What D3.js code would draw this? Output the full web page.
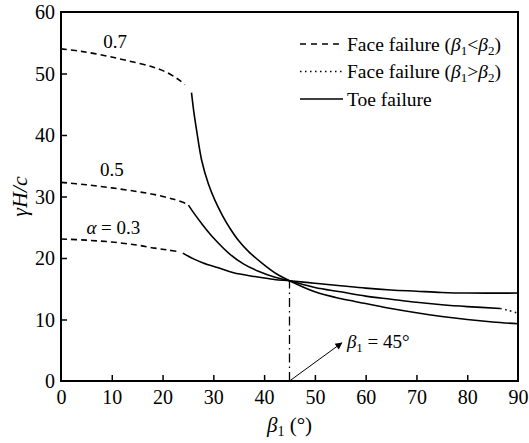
<!DOCTYPE html>
<html>
<head>
<meta charset="utf-8">
<script src="https://cdn.jsdelivr.net/npm/d3@7"></script>
<style>
  body { margin: 0; background: #fff; }
</style>
</head>
<body>
<div id="chart"></div>
<script>
// datos (beta1 en grados, gammaH/c)
const xTicks = [0, 10, 20, 30, 40, 50, 60, 70, 80, 90];
const yTicks = [0, 10, 20, 30, 40, 50, 60];

// alpha = 0.7
const face07 = [[0, 54.0], [4, 53.6], [8.7, 52.9], [13, 52.1], [17.9, 51.1], [21, 50.1], [23, 49.1], [24.4, 48.2]];
const toe07 = [[25.7, 46.9], [26.2, 43.5], [26.7, 40.8], [27.7, 35.9], [29, 32.1], [30.3, 29.4], [31.8, 26.9], [33.3, 24.8],
  [35, 22.8], [37, 21.0], [40, 18.9], [42.5, 17.4], [45, 16.3], [50, 14.5], [55, 13.4], [60, 12.6],
  [65, 11.8], [70, 11.1], [75, 10.5], [80, 10.0], [85, 9.6], [90, 9.3]];

// alpha = 0.5
const face05 = [[0, 32.3], [5, 31.9], [10, 31.4], [15, 30.8], [18.5, 30.3], [22, 29.6], [24.5, 28.9]];
const toe05 = [[25.1, 28.6], [26, 27.5], [27.7, 25.6], [30, 23.3], [33.3, 20.6], [36, 19.0], [39, 17.8],
  [42, 16.9], [45, 16.3], [50, 15.2], [55, 14.5], [60, 13.8], [65, 13.3], [70, 12.8], [75, 12.4],
  [80, 12.1], [86.5, 11.8]];
const faceHigh05 = [[86.5, 11.8], [88, 11.5], [90, 11.0]];

// alpha = 0.3
const face03 = [[0, 23.1], [5, 22.9], [10, 22.6], [15, 22.1], [18.5, 21.6], [21, 21.3], [23.4, 21.0]];
const toe03 = [[24, 20.8], [26, 19.9], [28, 19.2], [31, 18.4], [34, 17.6], [38, 17.0], [42, 16.5],
  [45, 16.3], [50, 15.9], [55, 15.5], [60, 15.1], [65, 14.8], [70, 14.6], [75, 14.4], [80, 14.3], [90, 14.3]];

const curveLabels = [
  { text: "0.7", x: 8.3, y: 54.2 },
  { text: "0.5", x: 7.7, y: 33.3 },
  { text: "\u03b1 = 0.3", x: 5.0, y: 23.9 }
];

const FONT = "Liberation Serif";
const width = 529, height = 443;
const margin = { top: 12, right: 11, bottom: 62, left: 61 };

const svg = d3.select("#chart").append("svg")
  .attr("width", width)
  .attr("height", height)
  .attr("font-family", FONT);

const x = d3.scaleLinear().domain([0, 90]).range([margin.left, width - margin.right]);
const y = d3.scaleLinear().domain([0, 60]).range([height - margin.bottom, margin.top]);

const line = d3.line().x(d => x(d[0])).y(d => y(d[1])).curve(d3.curveCatmullRom.alpha(0.5));

// EJES (ticks hacia dentro)
const xAxis = svg.append("g")
  .attr("transform", `translate(0,${y(0)})`)
  .call(d3.axisBottom(x).tickValues(xTicks).tickSize(-6).tickPadding(9).tickFormat(d3.format("d")));
const yAxis = svg.append("g")
  .attr("transform", `translate(${x(0)},0)`)
  .call(d3.axisLeft(y).tickValues(yTicks).tickSize(-6).tickPadding(6).tickFormat(d3.format("d")));

[xAxis, yAxis].forEach(a => {
  a.attr("font-family", FONT);
  a.select(".domain").remove();
  a.selectAll(".tick line").attr("stroke", "#000").attr("stroke-width", 1.5);
  a.selectAll(".tick text").attr("font-size", 20).attr("fill", "#000").attr("font-family", FONT);
});
// quitar tick del borde
xAxis.selectAll(".tick").filter(d => d === 0 || d === 90).select("line").remove();
yAxis.selectAll(".tick").filter(d => d === 0 || d === 60).select("line").remove();
yAxis.selectAll(".tick text").attr("dy", "0.34em");

// MARCO
svg.append("rect")
  .attr("x", x(0)).attr("y", y(60))
  .attr("width", x(90) - x(0)).attr("height", y(0) - y(60))
  .attr("fill", "none").attr("stroke", "#000").attr("stroke-width", 2);

// CURVAS
const series = [
  { data: face07, dash: "6,4" }, { data: toe07, dash: null },
  { data: face05, dash: "6,4" }, { data: toe05, dash: null }, { data: faceHigh05, dash: "1.5,3.5" },
  { data: face03, dash: "6,4" }, { data: toe03, dash: null }
];
svg.append("g").selectAll("path").data(series).enter().append("path")
  .attr("d", d => line(d.data))
  .attr("fill", "none")
  .attr("stroke", "#000")
  .attr("stroke-width", 1.6)
  .attr("stroke-dasharray", d => d.dash);

// linea vertical en beta1 = 45
svg.append("line")
  .attr("x1", x(45)).attr("x2", x(45))
  .attr("y1", y(0)).attr("y2", y(16.3))
  .attr("stroke", "#000").attr("stroke-width", 1.3)
  .attr("stroke-dasharray", "9,4,1.5,4");

// FLECHA
svg.append("defs").append("marker")
  .attr("id", "arrow").attr("viewBox", "0 0 10 10")
  .attr("refX", 9).attr("refY", 5)
  .attr("markerWidth", 10).attr("markerHeight", 7)
  .attr("markerUnits", "userSpaceOnUse")
  .attr("orient", "auto")
  .append("path").attr("d", "M0,0 L10,5 L0,10 z").attr("fill", "#000");

svg.append("line")
  .attr("x1", x(45)).attr("y1", y(0))
  .attr("x2", x(55.3)).attr("y2", y(6.2))
  .attr("stroke", "#000").attr("stroke-width", 1)
  .attr("marker-end", "url(#arrow)");

const ann = svg.append("text")
  .attr("x", x(56.3)).attr("y", y(5.3))
  .attr("font-family", FONT)
  .attr("font-size", 19);
ann.append("tspan").attr("font-style", "italic").text("\u03b2");
ann.append("tspan").attr("font-size", 13).attr("dy", 4).text("1");
ann.append("tspan").attr("dy", -4).text(" = 45\u00b0");

// ETIQUETAS DE CURVAS
curveLabels.forEach(l => {
  const t = svg.append("text").attr("x", x(l.x)).attr("y", y(l.y))
    .attr("font-family", FONT).attr("font-size", 19);
  if (l.text.startsWith("\u03b1")) {
    t.append("tspan").attr("font-style", "italic").text("\u03b1");
    t.append("tspan").text(l.text.slice(1));
  } else {
    t.text(l.text);
  }
});

// TITULOS DE EJES
const xl = svg.append("text")
  .attr("x", x(45)).attr("y", 432)
  .attr("text-anchor", "middle")
  .attr("font-family", FONT)
  .attr("font-size", 21);
xl.append("tspan").attr("font-style", "italic").text("\u03b2");
xl.append("tspan").attr("font-size", 14).attr("dy", 4).text("1");
xl.append("tspan").attr("dy", -4).text(" (\u00b0)");

svg.append("text")
  .attr("transform", `translate(27,${y(30)}) rotate(-90)`)
  .attr("text-anchor", "middle")
  .attr("font-family", FONT)
  .attr("font-size", 22)
  .attr("font-style", "italic")
  .text("\u03b3H/c");

// LEYENDA
const legendItems = [
  { dash: "6,5", label: ["Face failure (", "<"] },
  { dash: "1.5,3.5", label: ["Face failure (", ">"] },
  { dash: null, label: null }
];
const lg = svg.append("g").attr("transform", "translate(300,44)");
legendItems.forEach((d, i) => {
  const g = lg.append("g").attr("transform", `translate(0,${i * 27.5})`);
  g.append("line").attr("x1", 0).attr("x2", 43).attr("y1", 0).attr("y2", 0)
    .attr("stroke", "#000").attr("stroke-width", 1.6)
    .attr("stroke-dasharray", d.dash);
  const t = g.append("text").attr("x", 47).attr("y", 6.5)
    .attr("font-family", FONT).attr("font-size", 19.5);
  if (d.label) {
    t.append("tspan").text(d.label[0]);
    t.append("tspan").attr("font-style", "italic").text("\u03b2");
    t.append("tspan").attr("font-size", 13).attr("dy", 4).text("1");
    t.append("tspan").attr("dy", -4).text(d.label[1]);
    t.append("tspan").attr("font-style", "italic").text("\u03b2");
    t.append("tspan").attr("font-size", 13).attr("dy", 4).text("2");
    t.append("tspan").attr("dy", -4).text(")");
  } else {
    t.text("Toe failure");
  }
});
</script>
</body>
</html>
